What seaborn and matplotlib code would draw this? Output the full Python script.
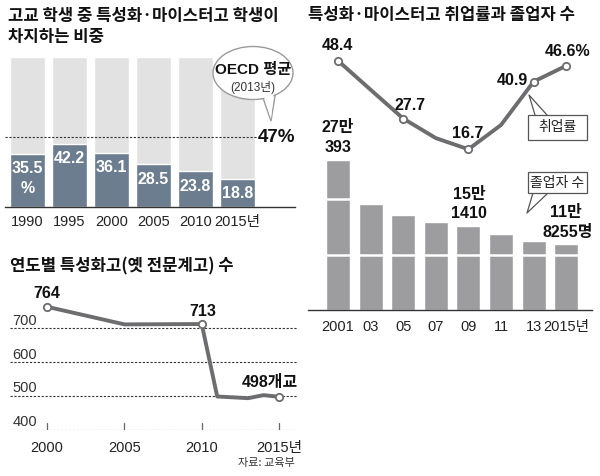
import numpy as np
import matplotlib
matplotlib.use('Agg')
import matplotlib.pyplot as plt
from matplotlib.patches import Ellipse, Polygon, Rectangle
import seaborn as sns

# data
share_years = ['1990', '1995', '2000', '2005', '2010', '2015년']
share_vals = [35.5, 42.2, 36.1, 28.5, 23.8, 18.8]
oecd_avg = 47

grad_labels = ['2001', '03', '05', '07', '09', '11', '13', '2015년']
grad_counts = [270393, 190500, 170500, 159000, 151410, 137000, 123500, 118255]
emp_rate = [48.4, 38.0, 27.7, 20.7, 16.7, 25.4, 40.9, 46.6]
emp_marked = [0, 2, 4, 6, 7]

school_years = [2000, 2005, 2010, 2011, 2013, 2014, 2015]
school_counts = [764, 712, 713, 499, 494, 503, 498]

sns.set_style('white')
plt.rcParams['font.family'] = ['Liberation Sans', 'Noto Sans CJK KR', 'DejaVu Sans']

W, H = 600, 476
fig = plt.figure(figsize=(6, 4.76), dpi=100)


def box(x0, y0, x1, y1):
    return fig.add_axes([x0 / W, 1 - y1 / H, (x1 - x0) / W, (y1 - y0) / H])


def ftext(x, y, s, **kw):
    kw.setdefault('ha', 'center')
    kw.setdefault('va', 'center')
    fig.text(x / W, 1 - y / H, s, **kw)


KR = ['Noto Sans CJK KR', 'DejaVu Sans']

# titles
ftext(8, 16, '고교 학생 중 특성화·마이스터고 학생이', ha='left', fontsize=12,
      fontweight='bold', family=KR, color='#111')
ftext(8, 37, '차지하는 비중', ha='left', fontsize=12, fontweight='bold', family=KR, color='#111')
ftext(308, 15, '특성화·마이스터고 취업률과 졸업자 수', ha='left', fontsize=12,
      fontweight='bold', family=KR, color='#111')
ftext(10, 266, '연도별 특성화고(옛 전문계고) 수', ha='left', fontsize=12,
      fontweight='bold', family=KR, color='#111')

# panel 1: share of students
ax1 = box(5, 57, 295, 207)
sns.barplot(x=share_years, y=[100] * len(share_years), color='#e2e2e2', saturation=1,
            width=0.83, ax=ax1, zorder=1)
sns.barplot(x=share_years, y=share_vals, color='#6c7d8f', saturation=1,
            width=0.83, ax=ax1, zorder=2)
ax1.set_xlim(-0.536, 6.37)
ax1.set_ylim(0, 100)
ax1.axhline(oecd_avg, xmin=0, xmax=(258 - 5) / 290, color='#333', lw=0.8,
            ls=(0, (2, 1.5)), zorder=3)
for s in ['top', 'left', 'right']:
    ax1.spines[s].set_visible(False)
ax1.spines['bottom'].set_color('#333')
ax1.spines['bottom'].set_linewidth(1)
ax1.set_yticks([])
ax1.set_xlabel('')
ax1.set_ylabel('')
ax1.tick_params(axis='x', length=0, pad=6, labelsize=10.5, labelcolor='#222')
for i, v in enumerate(share_vals):
    ax1.text(i, v - 10, f'{v}', ha='center', va='center', color='white',
             fontsize=11.5, fontweight='bold', zorder=4)
ax1.text(0, share_vals[0] - 23, '%', ha='center', va='center', color='white',
         fontsize=11.5, fontweight='bold', zorder=4)

ftext(276, 137, f'{oecd_avg}%', fontsize=13.5, fontweight='bold', color='#111')
# speech bubble
fig.patches.append(Polygon([(262 / W, 1 - 95 / H), (276 / W, 1 - 90 / H), (271 / W, 1 - 121 / H)],
                           closed=True, transform=fig.transFigure, facecolor='white',
                           edgecolor='#9a9a9a', lw=1, zorder=5))
fig.patches.append(Ellipse((253 / W, 1 - 73 / H), 80 / W, 53 / H, transform=fig.transFigure,
                           facecolor='white', edgecolor='#9a9a9a', lw=1, zorder=6))
fig.patches.append(Polygon([(263 / W, 1 - 94 / H), (274 / W, 1 - 90 / H), (271 / W, 1 - 119 / H)],
                           closed=True, transform=fig.transFigure, facecolor='white',
                           edgecolor='none', zorder=7))
ftext(253, 70, 'OECD 평균', fontsize=11, fontweight='bold', color='#111', zorder=8)
ftext(253, 88, '(2013년)', fontsize=8.5, color='#333', zorder=8)

# panel 2: graduates and employment rate
ax2 = box(308, 40, 592, 310)
sns.barplot(x=grad_labels, y=grad_counts, color='#9d9d9f', saturation=1, width=0.74,
            ax=ax2, zorder=1)
ax2.set_xlim(-0.92, 7.79)
ax2.set_ylim(0, 486700)
for g in [100000, 200000]:
    ax2.axhline(g, color='white', lw=1.8, zorder=3)
for s in ['top', 'left', 'right']:
    ax2.spines[s].set_visible(False)
ax2.spines['bottom'].set_color('#333')
ax2.spines['bottom'].set_linewidth(1)
ax2.set_yticks([])
ax2.set_xlabel('')
ax2.set_ylabel('')
ax2.tick_params(axis='x', length=0, pad=7, labelsize=10.5, labelcolor='#222')

ax2b = ax2.twinx()
sns.lineplot(x=np.arange(len(emp_rate)), y=emp_rate, color='#6d6d6f', lw=2.8, ax=ax2b,
             zorder=4)
ax2b.scatter([emp_marked], [[emp_rate[i] for i in emp_marked]], s=28, facecolor='white',
             edgecolor='#6d6d6f', linewidths=1.3, zorder=5)
ax2b.set_ylim(-40.8, 55.8)
ax2b.set_xlim(-0.92, 7.79)
ax2b.axis('off')

lab = dict(fontsize=11.5, fontweight='bold', color='#111')
ftext(337, 45, '48.4', **lab)
ftext(410, 105, '27.7', **lab)
ftext(468, 134, '16.7', **lab)
ftext(512, 80, '40.9', **lab)
ftext(568, 52, '46.6%', **lab)
ftext(338, 128, '27만', **lab)
ftext(338, 147, '393', **lab)
ftext(469, 195, '15만', **lab)
ftext(469, 213, '1410', **lab)
ftext(566, 213, '11만', **lab)
ftext(568, 232, '8255명', **lab)

# callout boxes
for (x0, y0, x1, y1), tail, text in [((528, 115, 587, 140), [(535, 115), (547, 115), (529, 95)], '취업률'),
                                      ((528, 172, 587, 193), [(533, 193), (548, 193), (527, 213)], '졸업자 수')]:
    tx = [(x / W, 1 - y / H) for x, y in tail]
    fig.lines.append(plt.Line2D([tx[0][0], tx[2][0], tx[1][0]], [tx[0][1], tx[2][1], tx[1][1]],
                                transform=fig.transFigure, color='#555', lw=0.9, zorder=6))
    fig.patches.append(Rectangle((x0 / W, 1 - y1 / H), (x1 - x0) / W, (y1 - y0) / H,
                                 transform=fig.transFigure, facecolor='white',
                                 edgecolor='#555', lw=0.9, zorder=7))
    ftext((x0 + x1) / 2, (y0 + y1) / 2, text, fontsize=10, color='#222', family=KR, zorder=8)

# panel 3: number of schools
ax3 = box(10, 290.6, 297, 430)
ax3.set_xlim(1997.6, 2016.16)
ax3.set_ylim(400, 811.8)
for g in [400, 500, 600, 700]:
    ax3.axhline(g, color='#333', lw=0.8, ls=(0, (2, 1.5)), zorder=1)
    ax3.text(1997.75, g + 23, str(g), ha='left', va='center', fontsize=10.5, color='#333')
for xt in [2000, 2005, 2010, 2015]:
    ax3.plot([xt, xt], [400, 420], color='#666', lw=0.9, zorder=1)
sns.lineplot(x=school_years, y=school_counts, color='#6d6d6f', lw=2.8, ax=ax3, zorder=3)
mk = [0, 2, 6]
ax3.scatter([school_years[i] for i in mk], [school_counts[i] for i in mk], s=28,
            facecolor='white', edgecolor='#6d6d6f', linewidths=1.3, zorder=4)
for s in ax3.spines.values():
    s.set_visible(False)
ax3.set_yticks([])
ax3.set_xticks([2000, 2005, 2010, 2015])
ax3.set_xticklabels(['2000', '2005', '2010', '2015년'])
ax3.tick_params(axis='x', length=0, pad=8, labelsize=10.5, labelcolor='#222')
ax3.set_xlabel('')
ax3.set_ylabel('')

ftext(47, 293, '764', **lab)
ftext(203, 311, '713', **lab)
ftext(270, 382, '498개교', **lab)
ftext(295, 463, '자료: 교육부', ha='right', fontsize=8, color='#333', family=KR)

fig.savefig('out.png', dpi=100)
